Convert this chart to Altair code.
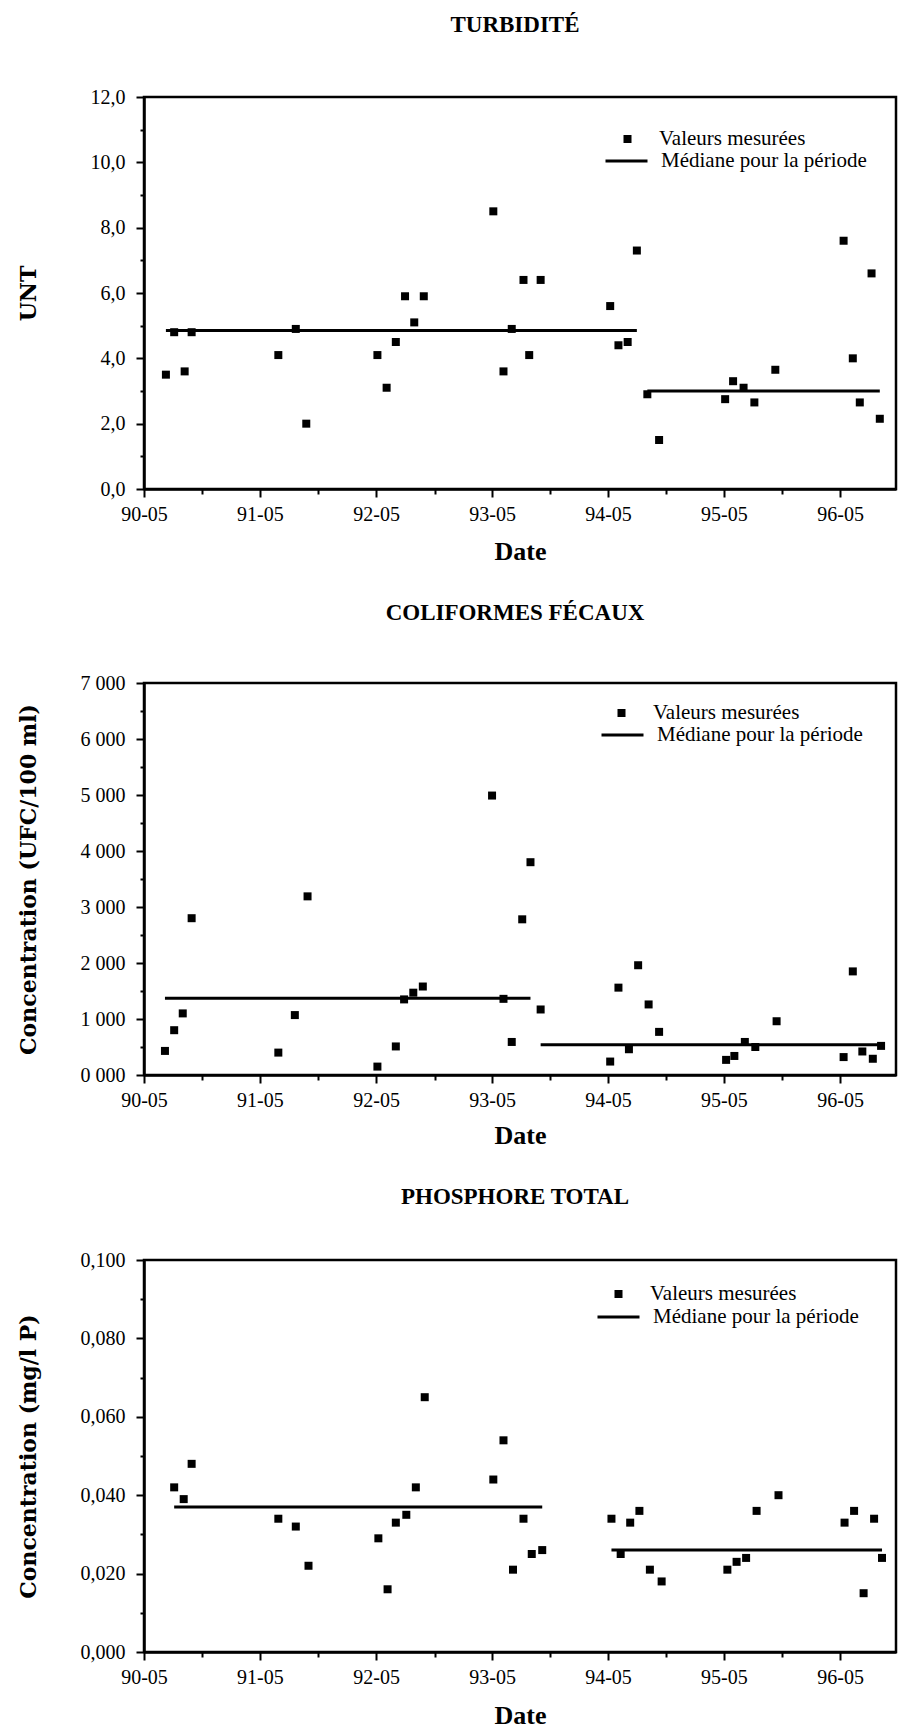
import altair as alt
import pandas as pd

# ---------------- data ----------------
# Turbidité (UNT)
turb_dates = [
    "1990-07-09", "1990-08-04", "1990-09-06", "1990-09-28",
    "1991-06-28", "1991-08-22", "1991-09-24",
    "1992-05-05", "1992-06-03", "1992-07-02", "1992-07-31", "1992-08-29", "1992-09-28",
    "1993-05-05", "1993-06-06", "1993-07-02", "1993-08-08", "1993-08-26", "1993-10-01",
    "1994-05-08", "1994-06-03", "1994-07-02", "1994-07-31", "1994-09-02", "1994-10-09",
    "1995-05-05", "1995-05-30", "1995-07-02", "1995-08-05", "1995-10-10",
    "1996-05-12", "1996-06-10", "1996-07-02", "1996-08-08", "1996-09-03",
]
turb_values = [
    3.5, 4.8, 3.6, 4.8,
    4.1, 4.9, 2.0,
    4.1, 3.1, 4.5, 5.9, 5.1, 5.9,
    8.5, 3.6, 4.9, 6.4, 4.1, 6.4,
    5.6, 4.4, 4.5, 7.3, 2.9, 1.5,
    2.75, 3.3, 3.1, 2.65, 3.65,
    7.6, 4.0, 2.65, 6.6, 2.15,
]
turb_first_period = 23          # samples belonging to the first period
turb_medians = [4.85, 3.0]

# Coliformes fécaux (UFC/100 ml)
coli_dates = [
    "1990-07-06", "1990-08-04", "1990-08-31", "1990-09-28",
    "1991-06-28", "1991-08-19", "1991-09-28",
    "1992-05-05", "1992-07-02", "1992-07-28", "1992-08-26", "1992-09-25",
    "1993-05-01", "1993-06-06", "1993-07-02", "1993-08-04", "1993-08-30", "1993-10-01",
    "1994-05-08", "1994-06-03", "1994-07-06", "1994-08-04", "1994-09-06", "1994-10-09",
    "1995-05-08", "1995-06-03", "1995-07-06", "1995-08-08", "1995-10-14",
    "1996-05-12", "1996-06-10", "1996-07-10", "1996-08-12", "1996-09-07",
]
coli_values = [
    430, 800, 1100, 2800,
    400, 1070, 3190,
    150, 510, 1350, 1470, 1580,
    4990, 1360, 590, 2780, 3800, 1170,
    240, 1560, 460, 1960, 1260, 770,
    270, 340, 590, 500, 960,
    320, 1850, 420, 290, 520,
]
coli_first_period = 17
coli_medians = [1370, 540]

# Phosphore total (mg/l P)
phos_dates = [
    "1990-08-04", "1990-09-03", "1990-09-28",
    "1991-06-28", "1991-08-22", "1991-10-01",
    "1992-05-08", "1992-06-06", "1992-07-02", "1992-08-04", "1992-09-03", "1992-10-01",
    "1993-05-05", "1993-06-06", "1993-07-06", "1993-08-08", "1993-09-03", "1993-10-06",
    "1994-05-12", "1994-06-10", "1994-07-10", "1994-08-08", "1994-09-10", "1994-10-17",
    "1995-05-12", "1995-06-10", "1995-07-10", "1995-08-12", "1995-10-20",
    "1996-05-15", "1996-06-14", "1996-07-14", "1996-08-16", "1996-09-10",
]
phos_values = [
    0.042, 0.039, 0.048,
    0.034, 0.032, 0.022,
    0.029, 0.016, 0.033, 0.035, 0.042, 0.065,
    0.044, 0.054, 0.021, 0.034, 0.025, 0.026,
    0.034, 0.025, 0.033, 0.036, 0.021, 0.018,
    0.021, 0.023, 0.024, 0.036, 0.040,
    0.033, 0.036, 0.015, 0.034, 0.024,
]
phos_first_period = 18
phos_medians = [0.037, 0.026]

LEGEND_POINTS = "Valeurs mesurées"
LEGEND_MEDIAN = "Médiane pour la période"

# ---------------- styling ----------------
FONT = "Liberation Serif"
YTITLE_FONT = "DejaVu Serif"
W, H = 752, 392
LEGEND_FONT_SIZE = 21

# yearly ticks in May, shorter ticks in November
tick_dates = []
for yr in range(1990, 1997):
    tick_dates.append(alt.DateTime(year=yr, month=5, date=1))
    if yr < 1996:
        tick_dates.append(alt.DateTime(year=yr, month=11, date=1))

x_scale = alt.Scale(domain=[alt.DateTime(year=1990, month=5, date=1),
                            alt.DateTime(year=1996, month=10, date=24)])
may_test = "month(datum.value) == 4"


def make_panel(title, title_offset, ytitle, dates, values, n_first, medians,
               ymax, ystep, ylabel_expr, ymajor_test, leg, date_title_y):
    pts = pd.DataFrame({"date": dates, "value": values, "kind": LEGEND_POINTS})
    med = pd.DataFrame({
        "start": [dates[0], dates[n_first]],
        "end": [dates[n_first - 1], dates[-1]],
        "median": medians,
        "kind": LEGEND_MEDIAN,
    })

    x_axis = alt.Axis(
        values=tick_dates,
        labelExpr=f"{may_test} ? timeFormat(datum.value, '%y-%m') : ''",
        tickSize={"condition": {"test": may_test, "value": 8}, "value": 5},
        tickWidth=2, tickColor="black",
        domainColor="black", domainWidth=2.5, grid=False,
        labelFont=FONT, labelFontSize=20, labelColor="black", labelPadding=7,
        labelOverlap=False, labelFlush=False, labelBound=False,
        title="Date", titleFont=FONT, titleFontSize=26, titleFontWeight="bold",
        titleColor="black", titleY=date_title_y, titleBaseline="middle",
    )
    nsteps = int(round(ymax / ystep))
    yvals = [round(i * ystep, 6) for i in range(nsteps + 1)]
    y_scale = alt.Scale(domain=[0, ymax], nice=False, zero=True)
    y_axis = alt.Axis(
        values=yvals, labelExpr=ylabel_expr,
        tickSize={"condition": {"test": ymajor_test, "value": 8}, "value": 4},
        tickWidth=2, tickColor="black",
        domainColor="black", domainWidth=2.5, grid=False,
        labelFont=FONT, labelFontSize=20, labelColor="black", labelPadding=11,
        labelOverlap=False,
        title=ytitle, titleFont=YTITLE_FONT, titleFontSize=22, titleFontWeight="bold",
        titleColor="black", titleAngle=270, titleX=-116, titleY=H / 2,
        titleAlign="center", titleBaseline="middle",
    )

    rules = alt.Chart(med).mark_rule(strokeWidth=3).encode(
        x=alt.X("start:T", scale=x_scale, axis=x_axis),
        x2="end:T",
        y=alt.Y("median:Q", scale=y_scale, axis=y_axis),
        color=alt.Color(
            "kind:N",
            scale=alt.Scale(domain=[LEGEND_MEDIAN], range=["black"]),
            legend=alt.Legend(
                title=None, orient="none", legendX=leg["line_x"], legendY=leg["line_y"],
                symbolType="stroke", symbolSize=1764, symbolStrokeWidth=3,
                symbolStrokeColor="black", clipHeight=20, padding=0,
                labelFont=FONT, labelFontSize=LEGEND_FONT_SIZE, labelColor="black",
                labelLimit=400, labelOffset=12,
            ),
        ),
    )
    points = alt.Chart(pts).mark_point(filled=True, size=64, opacity=1, color="black").encode(
        x=alt.X("date:T", scale=x_scale, axis=x_axis),
        y=alt.Y("value:Q", scale=y_scale, axis=y_axis),
        shape=alt.Shape(
            "kind:N",
            scale=alt.Scale(domain=[LEGEND_POINTS], range=["square"]),
            legend=alt.Legend(
                title=None, orient="none", legendX=leg["sq_x"], legendY=leg["sq_y"],
                symbolSize=64, symbolFillColor="black", symbolStrokeColor="black",
                symbolStrokeWidth=0, clipHeight=20, padding=0,
                labelFont=FONT, labelFontSize=LEGEND_FONT_SIZE, labelColor="black",
                labelLimit=400, labelOffset=21,
            ),
        ),
    )
    return alt.layer(rules, points).properties(
        width=W, height=H,
        title=alt.TitleParams(
            title, font=FONT, fontSize=23, fontWeight="bold", color="black",
            anchor="middle", baseline="bottom", offset=title_offset, dx=-5,
        ),
    )


turb = make_panel(
    "TURBIDITÉ", 27, "UNT", turb_dates, turb_values, turb_first_period, turb_medians,
    12, 1,
    "datum.value % 2 == 0 ? replace(format(datum.value, '.1f'), '.', ',') : ''",
    "datum.value % 2 == 0",
    {"sq_x": 473, "sq_y": 32, "line_x": 460, "line_y": 54},
    62,
)
coli = make_panel(
    "COLIFORMES FÉCAUX", 25, "Concentration (UFC/100 ml)", coli_dates, coli_values,
    coli_first_period, coli_medians,
    7000, 500,
    "datum.value % 1000 == 0 ? format(datum.value / 1000, 'd') + ' 000' : ''",
    "datum.value % 1000 == 0",
    {"sq_x": 467, "sq_y": 20, "line_x": 456, "line_y": 42},
    60,
)
phos = make_panel(
    "PHOSPHORE TOTAL", 18, "Concentration (mg/l P)", phos_dates, phos_values,
    phos_first_period, phos_medians,
    0.1, 0.01,
    "round(datum.value * 1000) % 20 == 0 ? replace(format(datum.value, '.3f'), '.', ',') : ''",
    "round(datum.value * 1000) % 20 == 0",
    {"sq_x": 464, "sq_y": 24, "line_x": 452, "line_y": 47},
    63,
)

chart = (
    alt.vconcat(turb, coli, phos, spacing=34)
    .resolve_scale(shape="independent", color="independent")
    .resolve_legend(shape="independent", color="independent")
    .properties(padding={"left": 15, "top": 12, "right": 0, "bottom": 0}, background="white")
    .configure_view(stroke="black", strokeWidth=2.5)
)

chart.save("out.html", embed_options={"renderer": "svg", "actions": False})
